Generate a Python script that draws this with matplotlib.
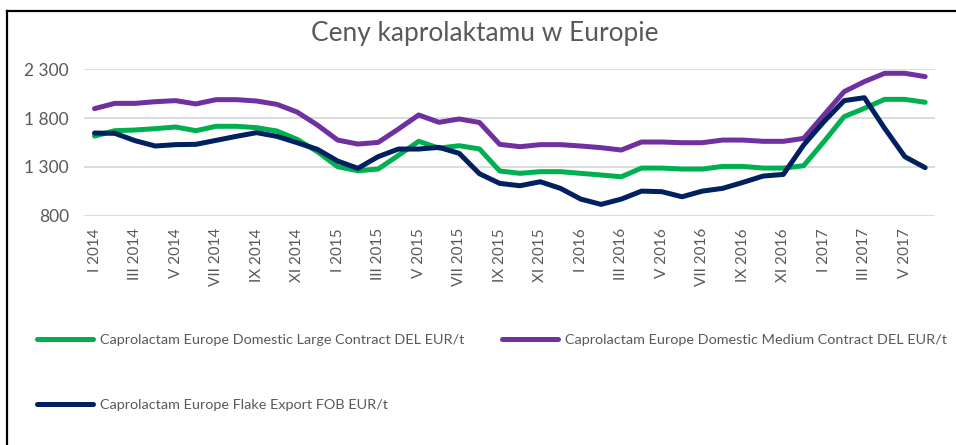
import matplotlib
matplotlib.use("Agg")
import matplotlib.pyplot as plt
from matplotlib.lines import Line2D
from matplotlib.ticker import FuncFormatter

plt.rcParams['font.family'] = ['Lato', 'DejaVu Sans']

roman = ["I", "II", "III", "IV", "V", "VI", "VII", "VIII", "IX", "X", "XI", "XII"]
years = [2014, 2015, 2016, 2017]
months = [f"{r} {y}" for y in years for r in roman][:42]

large = [1616, 1671, 1678, 1692, 1709, 1671, 1716, 1716, 1702, 1668,
         1582, 1456, 1302, 1261, 1278, 1418, 1562, 1493, 1517, 1484,
         1258, 1234, 1251, 1251, 1234, 1217, 1199, 1288, 1288, 1278,
         1278, 1305, 1305, 1288, 1288, 1312, 1558, 1815, 1900, 1992,
         1992, 1962]
medium = [1897, 1951, 1951, 1968, 1979, 1945, 1989, 1989, 1975, 1941,
          1862, 1729, 1575, 1534, 1551, 1688, 1832, 1757, 1791, 1755,
          1531, 1507, 1528, 1528, 1514, 1497, 1473, 1555, 1555, 1548,
          1548, 1575, 1575, 1562, 1562, 1592, 1832, 2071, 2174, 2259,
          2259, 2225]
flake = [1647, 1644, 1569, 1514, 1528, 1531, 1572, 1613, 1651, 1613,
         1548, 1480, 1360, 1285, 1405, 1483, 1483, 1500, 1439, 1230,
         1131, 1107, 1148, 1080, 970, 916, 970, 1052, 1046, 994,
         1052, 1080, 1141, 1206, 1223, 1524, 1763, 1979, 2009, 1695,
         1404, 1292]

series_names = ["Caprolactam Europe Domestic Large Contract DEL EUR/t",
                "Caprolactam Europe Domestic Medium Contract DEL EUR/t",
                "Caprolactam Europe Flake Export FOB EUR/t"]
colors = ["#00B050", "#7030A0", "#002060"]
yticks = [800, 1300, 1800, 2300]
title = "Ceny kaprolaktamu w Europie"

W, H = 956, 445
fig = plt.figure(figsize=(W / 100, H / 100), dpi=100)
ax = fig.add_axes([84.4 / W, 1 - 215.7 / H, (935.3 - 84.4) / W, (215.7 - 69.3) / H])

x = list(range(len(months)))
lines = []
for vals, name, c in zip([large, medium, flake], series_names, colors):
    ln, = ax.plot(x, vals, color=c, lw=3.6, label=name,
                  solid_joinstyle='round', solid_capstyle='round', clip_on=False)
    lines.append(ln)

ax.set_xlim(-0.5, len(months) - 0.5)
ax.set_ylim(800, 2300)
ax.set_yticks(yticks)
ax.yaxis.set_major_formatter(FuncFormatter(lambda v, p: f"{int(v):,}".replace(",", " ")))
ax.grid(axis='y', color='#D9D9D9', lw=1.3)
ax.set_axisbelow(True)
for s in ax.spines.values():
    s.set_visible(False)
ax.set_xticks(x[::2])
ax.set_xticklabels(months[::2], rotation=90, va='top', ha='center')
ax.tick_params(axis='x', length=0, pad=9, labelsize=11, labelcolor='#595959')
ax.tick_params(axis='y', length=0, pad=11, labelsize=12.5, labelcolor='#595959')

fig.text(485 / W, 1 - 34 / H, title, ha='center', va='center', fontsize=18.9, color='#595959')

# legend entries
pos = [(36.7, 340), (501.7, 340), (36.7, 405)]
for ln, (px, py) in zip(lines, pos):
    lg = fig.legend(handles=[ln], loc='center left', bbox_to_anchor=(px / W, 1 - py / H),
                    frameon=False, handlelength=3.9, handletextpad=0.45, borderaxespad=0,
                    borderpad=0, fontsize=10.4, labelcolor='#595959')

# chart frame (top and left edges visible)
fig.add_artist(Line2D([7 / W, 7 / W], [0, 1 - 11 / H], transform=fig.transFigure, color='black', lw=1.6))
fig.add_artist(Line2D([7 / W, 1], [1 - 11 / H, 1 - 11 / H], transform=fig.transFigure, color='black', lw=1.6))

fig.savefig("out.png", dpi=100)
